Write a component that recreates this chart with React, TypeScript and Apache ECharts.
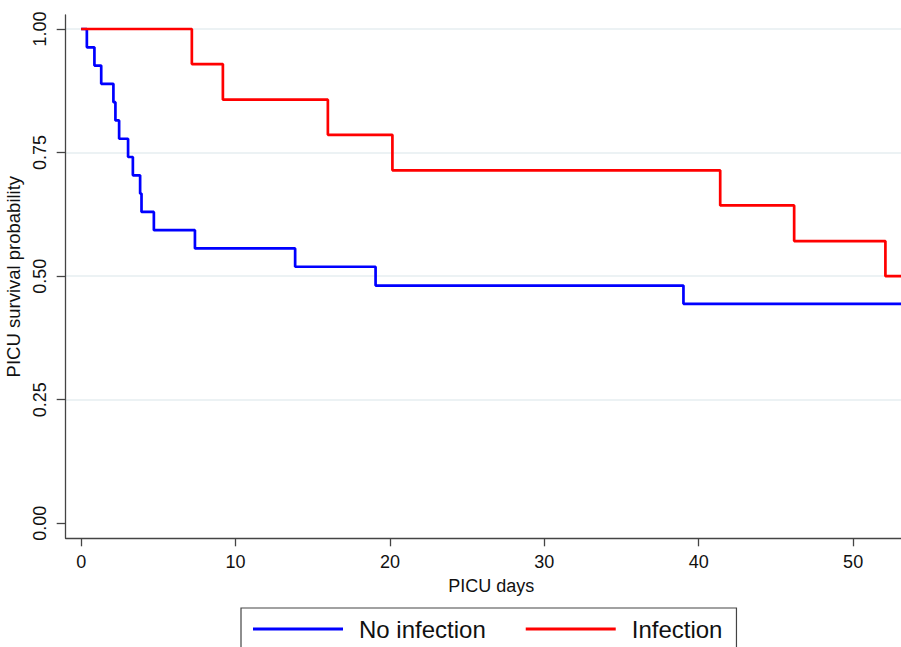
import React, { useEffect, useRef } from "react";
import * as echarts from "echarts";

// Kaplan-Meier estimates
const noInfectionTimes = [0, 0.37, 0.86, 1.3, 2.09, 2.22, 2.46, 3.04, 3.35, 3.82, 3.91, 4.71, 7.37, 13.86, 19.07, 39.01, 53.1];
const noInfectionSurv = [1, 0.963, 0.926, 0.889, 0.852, 0.815, 0.778, 0.741, 0.704, 0.667, 0.63, 0.593, 0.556, 0.519, 0.481, 0.444, 0.444];
const infectionTimes = [0, 7.17, 9.18, 15.98, 20.16, 41.39, 46.18, 52.09, 53.1];
const infectionSurv = [1, 0.929, 0.857, 0.786, 0.714, 0.643, 0.571, 0.5, 0.5];
const xTickValues = [0, 10, 20, 30, 40, 50];
const yTickValues = [0, 0.25, 0.5, 0.75, 1];
const seriesNames = ["No infection", "Infection"];

const FONT = "'Liberation Sans', Arial, Helvetica, sans-serif";

export default function App() {
  const ref = useRef<HTMLDivElement>(null);
  useEffect(() => {
    if (!ref.current) return;
    const chart = echarts.init(ref.current, undefined, { renderer: "svg" });
    const pair = (t: number[], s: number[]) => t.map((v, i) => [v, s[i]]);
    chart.setOption({
      animation: false,
      backgroundColor: "#ffffff",
      textStyle: { fontFamily: FONT },
      grid: { left: 65.7, right: 0, top: 15, bottom: 108.7, containLabel: false, outerBoundsMode: "none" },
      xAxis: {
        type: "value",
        min: -1,
        max: 53.1,
        name: "PICU days",
        nameLocation: "middle",
        nameGap: 39,
        nameTextStyle: { fontSize: 18, color: "#111", fontFamily: FONT, padding: [0, 0, 0, 16] },
        axisLine: { onZero: false, lineStyle: { color: "#444", width: 1.3 } },
        axisTick: { customValues: xTickValues, length: 8, lineStyle: { color: "#444", width: 1.3 } },
        axisLabel: {
          customValues: xTickValues,
          fontSize: 18,
          color: "#111",
          margin: 15,
          fontFamily: FONT,
          formatter: (v: number) => String(Math.round(v)),
        },
        splitLine: { show: false },
      },
      yAxis: {
        type: "value",
        min: -0.0303,
        max: 1.0283,
        name: "PICU survival probability",
        nameLocation: "middle",
        nameGap: 34,
        nameTextStyle: { fontSize: 18.5, color: "#111", fontFamily: FONT },
        axisLine: { show: true, onZero: false, lineStyle: { color: "#444", width: 1.3 } },
        axisTick: { show: true, customValues: yTickValues, length: 9, lineStyle: { color: "#444", width: 1.3 } },
        axisLabel: {
          customValues: yTickValues,
          rotate: 90,
          fontSize: 18,
          color: "#111",
          margin: 17,
          fontFamily: FONT,
          formatter: (v: number) => v.toFixed(2),
        },
        splitLine: {
          show: true,
          lineStyle: {
            color: ["rgba(0,0,0,0)", "#e6eef1", "#e6eef1", "#e6eef1", "#e6eef1"],
            width: 1.5,
          },
        },
      },
      legend: {
        data: seriesNames,
        orient: "horizontal",
        left: 241,
        top: 608,
        padding: [7, 14, 30, 12],
        itemGap: 40,
        itemWidth: 90,
        itemHeight: 3,
        icon: "rect",
        borderColor: "#444",
        borderWidth: 1.2,
        backgroundColor: "#ffffff",
        textStyle: { fontSize: 24, color: "#111", fontFamily: FONT, padding: [0, 0, 0, 11], lineHeight: 28 },
      },
      series: [
        {
          name: seriesNames[0],
          type: "line",
          step: "end",
          symbol: "none",
          color: "#0000ff",
          lineStyle: { color: "#0000ff", width: 2.7 },
          data: pair(noInfectionTimes, noInfectionSurv),
          z: 3,
        },
        {
          name: seriesNames[1],
          type: "line",
          step: "end",
          symbol: "none",
          color: "#ff0000",
          lineStyle: { color: "#ff0000", width: 2.7 },
          data: pair(infectionTimes, infectionSurv),
          z: 4,
        },
      ],
    });
    return () => chart.dispose();
  }, []);
  return (
    <div
      ref={ref}
      style={{ position: "fixed", left: 0, top: 0, width: 901, height: 647, background: "#fff" }}
    />
  );
}
